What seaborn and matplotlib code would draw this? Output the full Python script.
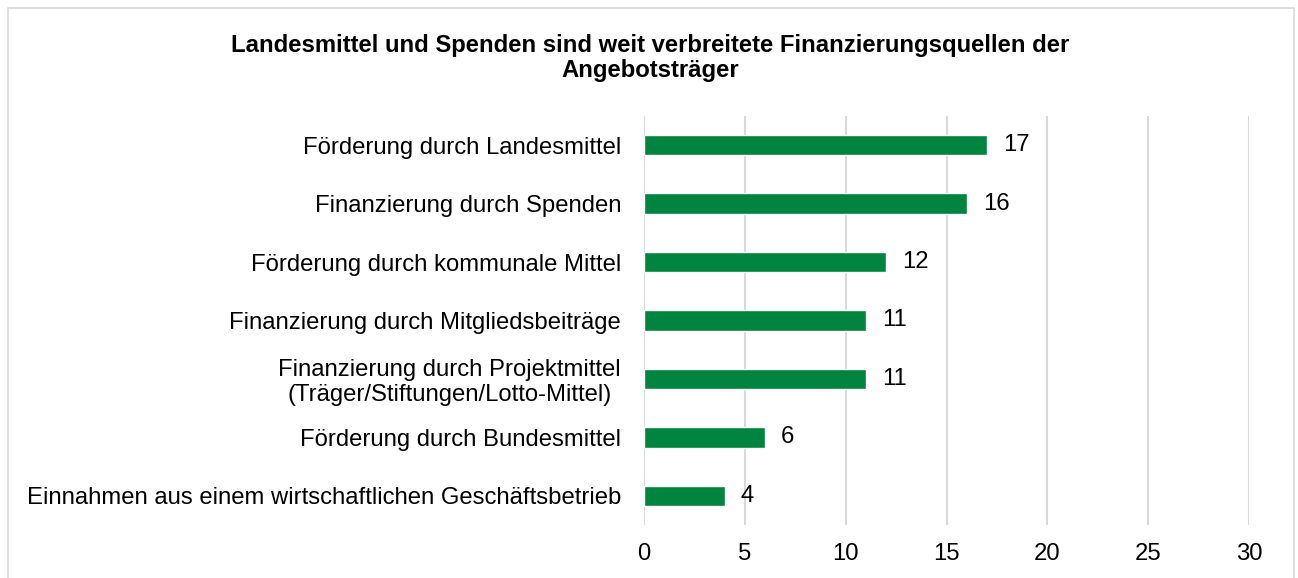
import matplotlib
matplotlib.use("Agg")
import matplotlib.pyplot as plt
import seaborn as sns
import pandas as pd
from matplotlib.patches import Rectangle

categories = [
    "Förderung durch Landesmittel",
    "Finanzierung durch Spenden",
    "Förderung durch kommunale Mittel",
    "Finanzierung durch Mitgliedsbeiträge",
    "Finanzierung durch Projektmittel\n(Träger/Stiftungen/Lotto-Mittel)",
    "Förderung durch Bundesmittel",
    "Einnahmen aus einem wirtschaftlichen Geschäftsbetrieb",
]
values = [17, 16, 12, 11, 11, 6, 4]
x_ticks = [0, 5, 10, 15, 20, 25, 30]
title = ("Landesmittel und Spenden sind weit verbreitete Finanzierungsquellen der\n"
         "Angebotsträger")

sns.set_theme(style="white")
plt.rcParams["font.family"] = ["Liberation Sans", "DejaVu Sans"]
plt.rcParams["text.color"] = "black"
plt.rcParams["xtick.color"] = "black"
plt.rcParams["ytick.color"] = "black"

df = pd.DataFrame({"Quelle": categories, "Anzahl": values})

W, H = 1298, 578
FS = 17.2
fig = plt.figure(figsize=(W / 100, H / 100), dpi=100)
ax = fig.add_axes([644 / W, 1 - 525 / H, (1249 - 644) / W, (525 - 116) / H])

sns.barplot(data=df, x="Anzahl", y="Quelle", orient="h", color="#00843f",
            width=0.35, saturation=1, ax=ax, zorder=3)

ax.set_xlim(0, 30)
ax.set_xticks(x_ticks)
ax.set_xticklabels([str(t) for t in x_ticks], fontsize=FS)
ax.tick_params(axis="y", labelsize=FS, length=0, pad=16.5)
ax.tick_params(axis="x", length=0, pad=13)
for lbl in ax.get_yticklabels():
    lbl.set_horizontalalignment("right")
    lbl.set_multialignment("center")
    lbl.set_linespacing(1.15)
ax.set_xlabel("")
ax.set_ylabel("")
ax.xaxis.grid(True, color="#d9d9d9", linewidth=1.5, zorder=0)
ax.yaxis.grid(False)
for s in ax.spines.values():
    s.set_visible(False)

for cont in ax.containers:
    ax.bar_label(cont, labels=[str(v) for v in values], padding=11.5, fontsize=FS)

fig.text(650 / W, 1 - 58 / H, title, ha="center", va="center", fontsize=FS,
         fontweight="bold", linespacing=1.1)

fig.patches.append(Rectangle((7.5 / W, -0.05), (1294 - 7.5) / W, 1.05 - 8.5 / H,
                             transform=fig.transFigure, fill=False,
                             edgecolor="#d9d9d9", linewidth=1.2, clip_on=False))

fig.savefig("out.png", dpi=100)
